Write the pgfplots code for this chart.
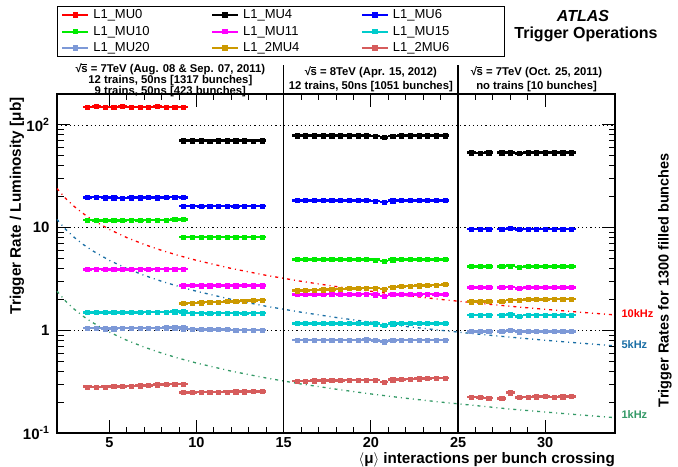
\documentclass[border=0pt]{standalone}
\usepackage{pgfplots}
\pgfplotsset{compat=1.18}
\usepackage{pgfplotstable}
\usepackage{fontspec}
\setmainfont{Liberation Sans}

\definecolor{cMUz}{RGB}{255,0,0}
\definecolor{cMUf}{RGB}{0,0,0}
\definecolor{cMUs}{RGB}{0,0,255}
\definecolor{cMUt}{RGB}{0,235,0}
\definecolor{cMUe}{RGB}{255,0,255}
\definecolor{cMUft}{RGB}{0,204,204}
\definecolor{cMUtw}{RGB}{125,153,215}
\definecolor{cTMUf}{RGB}{204,153,0}
\definecolor{cTMUs}{RGB}{214,92,92}
\definecolor{cRed}{RGB}{255,0,0}
\definecolor{cBlu}{RGB}{25,110,165}
\definecolor{cGrn}{RGB}{51,153,102}

\newcommand\rs{\mbox{√\kern-0.04em\rlap{\rule[0.74em]{0.5em}{0.06em}}s}}

\pgfplotstableread{
x mu0 mu4 mu6 mu10 mu11 mu15 mu20 tmu4 tmu6
3.75 150 nan 19.7 11.9 3.93 1.50 1.05 nan 0.282
4.25 151 nan 19.8 11.8 3.94 1.50 1.05 nan 0.281
4.75 150 nan 19.6 11.8 3.93 1.49 1.04 nan 0.282
5.25 150 nan 19.6 11.8 3.92 1.49 1.04 nan 0.284
5.75 151 nan 19.5 11.8 3.93 1.50 1.05 nan 0.285
6.25 150 nan 19.6 11.9 3.93 1.50 1.05 nan 0.287
6.75 150 nan 19.6 11.8 3.94 1.50 1.05 nan 0.289
7.25 150 nan 19.7 11.9 3.93 1.51 1.05 nan 0.292
7.75 151 nan 19.6 11.9 3.94 1.51 1.05 nan 0.295
8.25 150 nan 19.7 11.9 3.95 1.51 1.06 nan 0.298
8.75 150 nan 19.8 12.0 3.95 1.52 1.06 nan 0.300
9.25 150 nan 19.7 12.0 3.96 1.52 1.06 nan 0.301
}\tA
\pgfplotstableread{
x mu0 mu4 mu6 mu10 mu11 mu15 mu20 tmu4 tmu6
9.25 nan 70.2 16.2 8.1 2.72 1.47 1.03 1.83 0.249
9.75 nan 70.3 16.2 8.1 2.73 1.47 1.03 1.85 0.249
10.25 nan 70.2 16.1 8.1 2.72 1.47 1.02 1.86 0.250
10.75 nan 70.1 16.2 8.1 2.72 1.46 1.02 1.88 0.251
11.25 nan 70.2 16.2 8.1 2.73 1.47 1.02 1.89 0.251
11.75 nan 70.3 16.2 8.1 2.72 1.47 1.02 1.91 0.252
12.25 nan 70.2 16.1 8.1 2.72 1.47 1.01 1.92 0.253
12.75 nan 70.2 16.2 8.1 2.73 1.46 1.01 1.94 0.253
13.25 nan 70.1 16.2 8.1 2.72 1.47 1.01 1.96 0.254
13.75 nan 70.2 16.2 8.1 2.72 1.47 1.01 1.97 0.255
}\tB
\pgfplotstableread{
x mu0 mu4 mu6 mu10 mu11 mu15 mu20 tmu4 tmu6
15.75 nan 78.5 18.4 4.91 2.24 1.17 0.805 2.43 0.321
16.25 nan 78.6 18.4 4.91 2.24 1.17 0.805 2.45 0.322
16.75 nan 78.5 18.4 4.90 2.24 1.17 0.805 2.47 0.323
17.25 nan 78.5 18.4 4.91 2.24 1.17 0.805 2.49 0.324
17.75 nan 78.6 18.4 4.91 2.25 1.17 0.805 2.51 0.325
18.25 nan 78.5 18.4 4.91 2.24 1.17 0.805 2.53 0.326
18.75 nan 78.5 18.4 4.90 2.24 1.17 0.805 2.55 0.327
19.25 nan 78.5 18.4 4.91 2.24 1.17 0.805 2.57 0.328
19.75 nan 78.6 18.4 4.91 2.25 1.17 0.810 2.59 0.329
20.25 nan 78.0 18.2 4.86 2.22 1.16 0.800 2.59 0.327
20.75 nan 75.5 17.7 4.72 2.15 1.12 0.775 2.52 0.314
21.25 nan 78.0 18.3 4.88 2.23 1.16 0.800 2.65 0.330
21.75 nan 78.5 18.4 4.91 2.24 1.17 0.805 2.67 0.334
22.25 nan 78.5 18.4 4.91 2.24 1.17 0.805 2.70 0.336
22.75 nan 78.6 18.4 4.91 2.24 1.17 0.805 2.72 0.338
23.25 nan 78.5 18.4 4.91 2.25 1.17 0.805 2.74 0.340
23.75 nan 78.5 18.4 4.91 2.24 1.17 0.805 2.77 0.342
24.25 nan 78.5 18.4 4.91 2.24 1.17 0.805 2.80 0.343
}\tC
\pgfplotstableread{
x mu0 mu4 mu6 mu10 mu11 mu15 mu20 tmu4 tmu6
25.75 nan 53.6 9.7 4.2 2.62 1.41 0.98 1.90 0.225
26.25 nan 53.5 9.7 4.2 2.62 1.41 0.98 1.90 0.222
26.75 nan 53.6 9.7 4.2 2.62 1.41 0.98 1.91 0.220
}\tD
\pgfplotstableread{
x mu0 mu4 mu6 mu10 mu11 mu15 mu20 tmu4 tmu6
27.5 nan 53.6 9.7 4.2 2.62 1.41 0.98 1.92 0.218
28.0 nan 53.8 9.8 4.25 2.64 1.42 1.00 1.98 0.247
28.5 nan 53.0 9.6 4.15 2.55 1.37 0.97 1.97 0.223
29.0 nan 53.6 9.7 4.2 2.62 1.41 0.98 2.00 0.225
29.5 nan 53.6 9.7 4.2 2.62 1.41 0.98 2.00 0.226
30.0 nan 53.6 9.7 4.2 2.62 1.41 0.98 2.00 0.228
30.5 nan 53.6 9.7 4.2 2.62 1.41 0.98 2.01 0.225
31.0 nan 53.6 9.7 4.2 2.62 1.41 0.98 2.01 0.226
31.5 nan 53.6 9.7 4.2 2.62 1.41 0.98 2.01 0.228
}\tE

\pgfplotsset{
  ser/.style={only marks, mark=square*, mark size=2.1pt, color=#1,
    mark options={solid, line width=0.3pt},
    error bars/.cd, x dir=both, x fixed=0.25, error mark=none,
    error bar style={line width=2.6pt, solid}},
  curve/.style={forget plot, color=#1, line width=1.3pt, dash pattern=on 3pt off 4pt on 1pt off 4pt, no markers},
}
\newcommand\seg[3]{\addplot[forget plot, ser=#1] table[x=x,y=#2]{#3};}

\begin{document}
\begin{tikzpicture}
\begin{axis}[
  width=558pt, height=339pt, scale only axis,
  xmin=2, xmax=34, ymin=0.1, ymax=200, ymode=log,
  xtick={5,10,...,30}, minor x tick num=4,
  ytick={0.1,1,10,100},
  yticklabels={10\textsuperscript{-1},1,10,10\textsuperscript{2}},
  minor ytick={0.2,0.3,0.4,0.5,0.6,0.7,0.8,0.9,2,3,4,5,6,7,8,9,20,30,40,50,60,70,80,90},
  ymajorgrids,
  major grid style={black, line width=0.8pt, dash pattern=on 1.2pt off 3pt},
  tick align=inside,
  major tick length=13pt, minor tick length=6.5pt,
  axis line style={line width=1.2pt},
  every tick/.style={black, line width=0.9pt},
  clip=false,
  /pgf/number format/assume math mode=true,
  xticklabel style={font=\fontsize{14.5}{14.5}\selectfont\bfseries, inner ysep=0.5pt, yshift=-3.5pt},
  yticklabel style={font=\fontsize{15}{15}\selectfont\bfseries, xshift=-4pt},
  legend columns=3,
  legend cell align=left,
  legend image code/.code={\draw[#1, line width=1.8pt] (0pt,0pt) -- (26pt,0pt);
     \fill[#1] (13pt,0pt) ++(-2.3pt,-2.3pt) rectangle ++(4.6pt,4.6pt);},
  legend style={at={(0,1)}, anchor=south west, yshift=37pt,
     font=\fontsize{13}{13}\selectfont, draw=black, line width=1pt,
     inner xsep=4pt, inner ysep=1pt, row sep=2pt,
     /tikz/every odd column/.append style={column sep=2pt},
     /tikz/every even column/.append style={column sep=10pt}},
]
\coordinate (bl) at (rel axis cs:0,0);
\coordinate (tr) at (rel axis cs:1,1);

% reference rate curves
\addplot[curve=cRed] coordinates {(2,24) (2.5,19.2) (3,16) (3.5,13.71) (4,12) (5,9.6) (6,8) (7,6.857) (8,6) (9,5.333) (10,4.8) (12,4) (14,3.429) (16,3) (18,2.667) (20,2.4) (22,2.182) (24,2) (26,1.846) (28,1.714) (30,1.6) (32,1.5) (34,1.412)};
\addplot[curve=cBlu] coordinates {(2,12) (2.5,9.6) (3,8) (3.5,6.857) (4,6) (5,4.8) (6,4) (7,3.429) (8,3) (9,2.667) (10,2.4) (12,2) (14,1.714) (16,1.5) (18,1.333) (20,1.2) (22,1.091) (24,1) (26,0.923) (28,0.857) (30,0.8) (32,0.75) (34,0.706)};
\addplot[curve=cGrn] coordinates {(2,2.4) (2.5,1.92) (3,1.6) (3.5,1.371) (4,1.2) (5,0.96) (6,0.8) (7,0.686) (8,0.6) (9,0.533) (10,0.48) (12,0.4) (14,0.343) (16,0.3) (18,0.267) (20,0.24) (22,0.218) (24,0.2) (26,0.185) (28,0.171) (30,0.16) (32,0.15) (34,0.141)};

% data
\seg{cMUz}{mu0}{\tA}
\seg{cMUf}{mu4}{\tB}\seg{cMUf}{mu4}{\tC}\seg{cMUf}{mu4}{\tD}\seg{cMUf}{mu4}{\tE}
\seg{cMUs}{mu6}{\tA}\seg{cMUs}{mu6}{\tB}\seg{cMUs}{mu6}{\tC}\seg{cMUs}{mu6}{\tD}\seg{cMUs}{mu6}{\tE}
\seg{cMUt}{mu10}{\tA}\seg{cMUt}{mu10}{\tB}\seg{cMUt}{mu10}{\tC}\seg{cMUt}{mu10}{\tD}\seg{cMUt}{mu10}{\tE}
\seg{cMUe}{mu11}{\tA}\seg{cMUe}{mu11}{\tB}\seg{cMUe}{mu11}{\tC}\seg{cMUe}{mu11}{\tD}\seg{cMUe}{mu11}{\tE}
\seg{cMUft}{mu15}{\tA}\seg{cMUft}{mu15}{\tB}\seg{cMUft}{mu15}{\tC}\seg{cMUft}{mu15}{\tD}\seg{cMUft}{mu15}{\tE}
\seg{cMUtw}{mu20}{\tA}\seg{cMUtw}{mu20}{\tB}\seg{cMUtw}{mu20}{\tC}\seg{cMUtw}{mu20}{\tD}\seg{cMUtw}{mu20}{\tE}
\seg{cTMUf}{tmu4}{\tB}\seg{cTMUf}{tmu4}{\tC}\seg{cTMUf}{tmu4}{\tD}\seg{cTMUf}{tmu4}{\tE}
\seg{cTMUs}{tmu6}{\tA}\seg{cTMUs}{tmu6}{\tB}\seg{cTMUs}{tmu6}{\tC}\seg{cTMUs}{tmu6}{\tD}\seg{cTMUs}{tmu6}{\tE}

% legend
\addlegendimage{color=cMUz}\addlegendentry{\makebox[106pt][l]{L1\_MU0}}
\addlegendimage{color=cMUf}\addlegendentry{\makebox[106pt][l]{L1\_MU4}}
\addlegendimage{color=cMUs}\addlegendentry{\makebox[106pt][l]{L1\_MU6}}
\addlegendimage{color=cMUt}\addlegendentry{\makebox[106pt][l]{L1\_MU10}}
\addlegendimage{color=cMUe}\addlegendentry{\makebox[106pt][l]{L1\_MU11}}
\addlegendimage{color=cMUft}\addlegendentry{\makebox[106pt][l]{L1\_MU15}}
\addlegendimage{color=cMUtw}\addlegendentry{\makebox[106pt][l]{L1\_MU20}}
\addlegendimage{color=cTMUf}\addlegendentry{\makebox[106pt][l]{L1\_2MU4}}
\addlegendimage{color=cTMUs}\addlegendentry{\makebox[106pt][l]{L1\_2MU6}}

% separators
\draw[line width=1.2pt] (axis cs:15,0.1) -- ([yshift=29pt]axis cs:15,200);
\draw[line width=1.2pt] (axis cs:25,0.1) -- ([yshift=29pt]axis cs:25,200);

% headers
\node[font=\fontsize{11.3}{10.8}\selectfont\bfseries, align=center] at ([yshift=14pt]axis cs:8.5,200)
  {\rs{} = 7TeV (Aug. 08 \& Sep. 07, 2011)\\12 trains, 50ns [1317 bunches]\\9 trains, 50ns [423 bunches]};
\node[font=\fontsize{11.3}{13.5}\selectfont\bfseries, align=center] at ([yshift=15pt]axis cs:20,200)
  {\rs{} = 8TeV (Apr. 15, 2012)\\12 trains, 50ns [1051 bunches]};
\node[font=\fontsize{11.3}{13.5}\selectfont\bfseries, align=center] at ([yshift=15pt]axis cs:29.5,200)
  {\rs{} = 7TeV (Oct. 25, 2011)\\no trains [10 bunches]};

% ATLAS label
\node[font=\fontsize{16}{16}\selectfont\bfseries\itshape] at ([xshift=-32pt,yshift=78pt]rel axis cs:1,1) {ATLAS};
\node[font=\fontsize{16}{16}\selectfont\bfseries] at ([xshift=-29pt,yshift=60pt]rel axis cs:1,1) {Trigger Operations};

% axis titles
\node[rotate=90, anchor=east, font=\fontsize{15.3}{15.3}\selectfont\bfseries] at ([xshift=-40pt]rel axis cs:0,1) {Trigger Rate / Luminosity [μb]};
\node[anchor=base east, font=\fontsize{15.2}{15.2}\selectfont\bfseries, inner xsep=0pt, inner ysep=0.5pt] at ([yshift=-31pt]rel axis cs:1,0) {$\langle$μ$\rangle$ interactions per bunch crossing};
\node[rotate=90, font=\fontsize{14.5}{14.5}\selectfont\bfseries] at ([xshift=50pt]rel axis cs:1,0.451) {Trigger Rates for 1300 filled bunches};

% rate labels
\node[anchor=west, text=cRed, font=\fontsize{11}{11}\selectfont\bfseries] at ([xshift=3pt]axis cs:34,1.47) {10kHz};
\node[anchor=west, text=cBlu, font=\fontsize{11}{11}\selectfont\bfseries] at ([xshift=3pt]axis cs:34,0.72) {5kHz};
\node[anchor=west, text=cGrn, font=\fontsize{11}{11}\selectfont\bfseries] at ([xshift=3pt]axis cs:34,0.15) {1kHz};
\end{axis}
\pgfresetboundingbox
\useasboundingbox ([shift={(-57pt,-34pt)}]bl) rectangle ([shift={(63pt,94pt)}]tr);
\end{tikzpicture}
\end{document}
